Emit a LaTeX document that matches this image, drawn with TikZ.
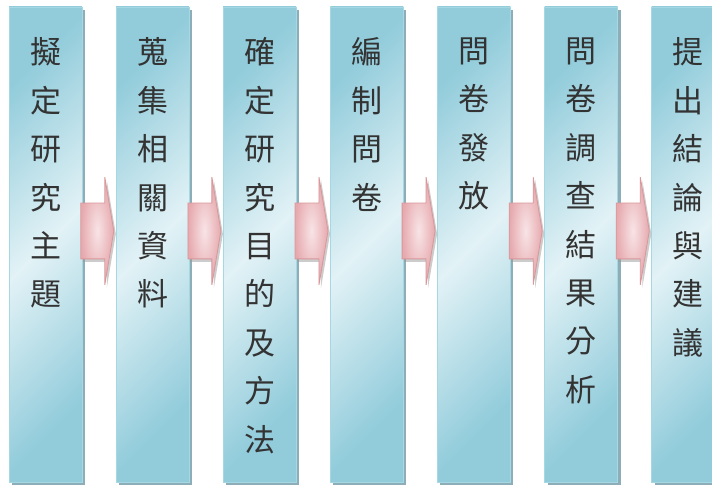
\documentclass[tikz,border=0pt]{standalone}
\usepackage{fontspec}
\usepackage{tikz}
\usetikzlibrary{positioning,shapes.arrows,shadows}
\newfontfamily\cjk{Noto Sans CJK TC}
\definecolor{boxdark}{HTML}{92CCDB}
\definecolor{boxlight}{HTML}{E2F2F6}
\definecolor{boxline}{HTML}{A6D8E3}
\definecolor{boxshade}{HTML}{8DAEB8}
\definecolor{arrline}{HTML}{D9979A}
\definecolor{arrdark}{HTML}{E6A9AE}
\definecolor{arrlight}{HTML}{F8E4E6}
\tikzstyle{step box}=[
	rectangle,
	draw=boxline,
	line width=0.8pt,
	minimum width=73pt,
	minimum height=475pt,
	inner sep=0pt,
	left color=boxdark,
	right color=boxdark,
	middle color=boxlight,
	shading angle=45,
	drop shadow={shadow xshift=3pt, shadow yshift=-3pt, fill=boxshade, opacity=1}
]
\tikzstyle{step text}=[
	inner sep=0pt,
	align=center,
	text=black!80,
	font=\cjk\fontsize{31pt}{48.4pt}\selectfont
]
\tikzstyle{flow}=[
	single arrow,
	draw=arrline,
	line width=0.8pt,
	inner xsep=0pt,
	inner ysep=27.5pt,
	minimum height=33pt,
	single arrow head extend=26pt,
	single arrow tip angle=161,
	anchor=tail,
	inner color=arrlight,
	outer color=arrdark,
	drop shadow={shadow xshift=2pt, shadow yshift=-3pt, fill=black!40, opacity=0.5}
]

\begin{document}
\begin{tikzpicture}[x=1pt, y=1pt, node distance=33.3pt]
\useasboundingbox (0,0) rectangle (712,486);
\clip (0,0) rectangle (712,486);

\node[step box] (1) at (45.5,241.5) {};
\node[step box, right=of 1] (2) {};
\node[step box, right=of 2] (3) {};
\node[step box, right=of 3] (4) {};
\node[step box, right=of 4] (5) {};
\node[step box, right=of 5] (6) {};
\node[step box, right=of 6] (7) {};

\node[step text, below=31pt of 1.north] (t1) {擬\\定\\研\\究\\主\\題};
\node[step text, below=31pt of 2.north] (t2) {蒐\\集\\相\\關\\資\\料};
\node[step text, below=31pt of 3.north] (t3) {確\\定\\研\\究\\目\\的\\及\\方\\法};
\node[step text, below=31pt of 4.north] (t4) {編\\制\\問\\卷};
\node[step text, below=31pt of 5.north] (t5) {問\\卷\\發\\放};
\node[step text, below=31pt of 6.north] (t6) {問\\卷\\調\\查\\結\\果\\分\\析};
\node[step text, below=31pt of 7.north] (t7) {提\\出\\結\\論\\與\\建\\議};

\node[flow] (a1) at ([xshift=-2pt, yshift=13.5pt]1.east) {};
\node[flow] (a2) at ([xshift=-2pt, yshift=13.5pt]2.east) {};
\node[flow] (a3) at ([xshift=-2pt, yshift=13.5pt]3.east) {};
\node[flow] (a4) at ([xshift=-2pt, yshift=13.5pt]4.east) {};
\node[flow] (a5) at ([xshift=-2pt, yshift=13.5pt]5.east) {};
\node[flow] (a6) at ([xshift=-2pt, yshift=13.5pt]6.east) {};

\end{tikzpicture}
\end{document}
